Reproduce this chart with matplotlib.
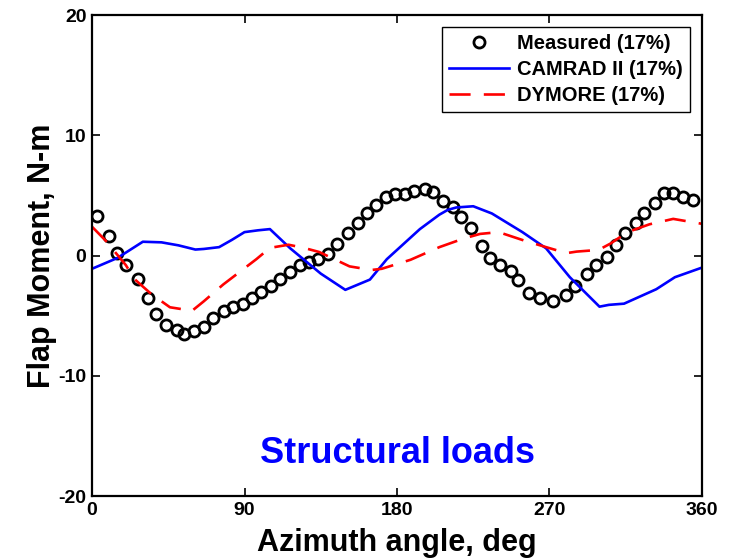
import matplotlib
matplotlib.use("Agg")
import matplotlib.pyplot as plt

plt.rcParams['font.family'] = ['Liberation Sans', 'DejaVu Sans']
plt.rcParams['font.weight'] = 'bold'
plt.rcParams['axes.unicode_minus'] = False

# Measured flap moment (circles)
meas_az = [3, 10, 15, 20, 27, 33, 38, 43.5, 50, 54.5, 60, 66, 71.5, 78, 83, 89,
           94.5, 100, 105.5, 111, 117, 123, 128, 133.5, 139.5, 144.5, 151, 157,
           162, 167.5, 173.5, 179, 184.5, 190, 196.5, 201.5, 207, 213, 218,
           223.5, 230, 235, 241, 247, 251.5, 258, 264.5, 272, 280, 285, 292,
           297.5, 304, 309, 314.5, 321, 326, 332, 337.5, 343, 348.5, 354.5]
meas_val = [3.25, 1.6, 0.2, -0.75, -1.95, -3.5, -4.85, -5.8, -6.2, -6.5, -6.3,
            -5.95, -5.2, -4.6, -4.25, -4.0, -3.5, -3.05, -2.5, -1.95, -1.4, -0.8,
            -0.5, -0.3, 0.15, 1.0, 1.9, 2.7, 3.5, 4.2, 4.9, 5.1, 5.1, 5.4, 5.5,
            5.3, 4.5, 4.0, 3.2, 2.3, 0.8, -0.2, -0.75, -1.25, -2.0, -3.1, -3.55,
            -3.75, -3.3, -2.55, -1.5, -0.8, -0.1, 0.9, 1.9, 2.7, 3.5, 4.4, 5.2,
            5.2, 4.9, 4.6]

# CAMRAD II
cam_az = [0, 15, 30, 41, 51, 61, 66, 75, 82.5, 90, 98, 105, 117, 129, 135,
          149.5, 164, 174, 193.5, 205, 210, 215, 225, 236, 254, 268, 282,
          299.5, 305, 314, 333, 344, 360]
cam_val = [-1.1, -0.2, 1.15, 1.1, 0.85, 0.5, 0.55, 0.7, 1.3, 1.95, 2.1, 2.2,
           0.6, -0.8, -1.5, -2.85, -2.0, -0.3, 2.2, 3.4, 3.8, 4.0, 4.1, 3.5,
           1.95, 0.6, -1.8, -4.25, -4.1, -4.0, -2.8, -1.8, -1.0]

# DYMORE
dym_az = [0, 8, 20, 25, 35, 46, 55, 59, 66, 77.5, 97, 105, 116, 125, 134, 140,
          152, 165, 171, 188, 205, 219, 229, 240, 255, 268, 280, 286, 299, 306,
          316, 329, 343, 360]
dym_val = [2.4, 1.25, -0.8, -1.95, -3.2, -4.3, -4.5, -4.6, -3.8, -2.4, -0.3,
           0.64, 0.9, 0.64, 0.3, -0.1, -0.9, -1.2, -1.1, -0.35, 0.7, 1.4, 1.8,
           1.95, 1.25, 0.7, 0.2, 0.33, 0.47, 1.0, 1.95, 2.6, 3.05, 2.64]

fig = plt.figure(figsize=(7.48, 5.58), dpi=100)
ax = fig.add_axes([0.123, 0.111, 0.8155, 0.862])

ax.plot(meas_az, meas_val, 'o', mfc='none', mec='black', ms=8, mew=2,
        label='Measured (17%)')
ax.plot(cam_az, cam_val, '-', color='blue', lw=1.9, label='CAMRAD II (17%)')
ax.plot(dym_az, dym_val, '--', color='red', lw=1.9, dashes=(8, 5),
        label='DYMORE (17%)')

ax.set_xlim(0, 360)
ax.set_ylim(-20, 20)
ax.set_xticks([0, 90, 180, 270, 360])
ax.set_yticks([-20, -10, 0, 10, 20])
ax.tick_params(direction='in', length=6, width=1.2, top=True, right=True,
               labelsize=14, pad=4)
for lab in ax.get_xticklabels() + ax.get_yticklabels():
    lab.set_fontweight('bold')
for sp in ax.spines.values():
    sp.set_linewidth(1.6)

ax.set_xlabel('Azimuth angle, deg', fontsize=22, fontweight='bold', labelpad=7)
ax.set_ylabel('Flap Moment, N-m', fontsize=22, fontweight='bold', labelpad=1)

ax.text(180, -16.5, 'Structural loads', color='blue', fontsize=26,
        fontweight='bold', ha='center', va='center')

leg = ax.legend(loc='upper right', fontsize=14.5, fancybox=False, framealpha=1,
                edgecolor='black', borderpad=0.35, labelspacing=0.35,
                handlelength=3.0, handletextpad=0.4, borderaxespad=0.6)
leg.get_frame().set_linewidth(1.0)
for t in leg.get_texts():
    t.set_fontweight('bold')

fig.savefig('out.png', dpi=100)
